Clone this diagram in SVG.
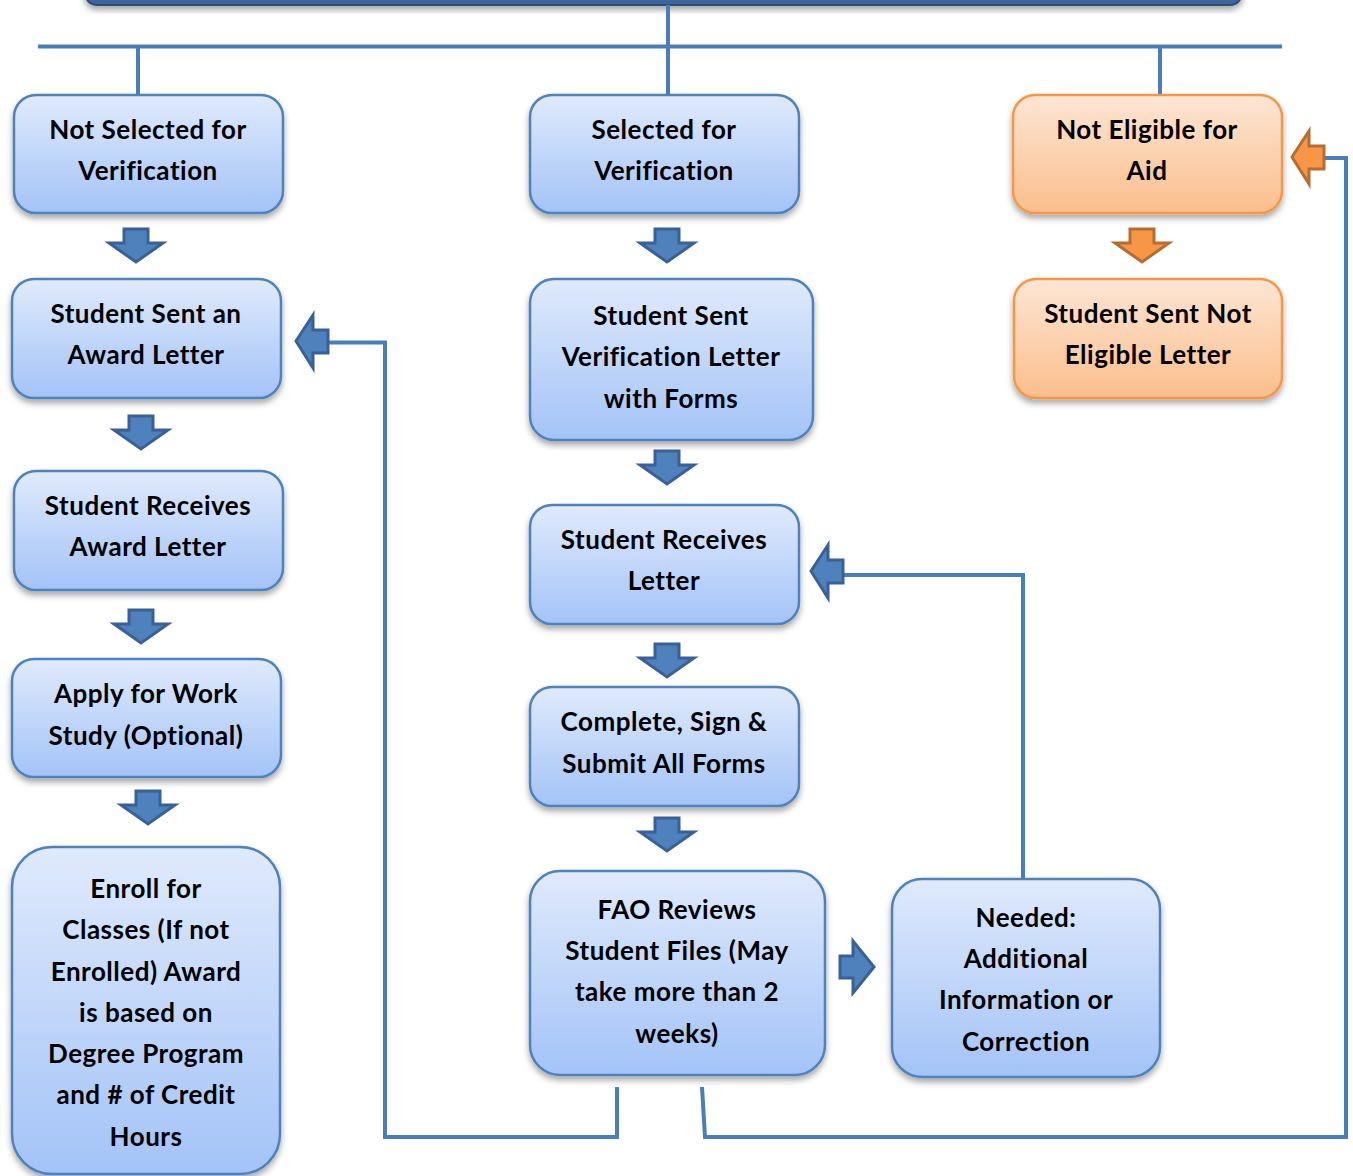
<svg xmlns="http://www.w3.org/2000/svg" width="1353" height="1176" viewBox="0 0 1353 1176">
<defs>
<linearGradient id="gb" x1="0" y1="0" x2="0" y2="1">
<stop offset="0" stop-color="#e0eafc"/>
<stop offset="1" stop-color="#a3c3f7"/>
</linearGradient>
<linearGradient id="go" x1="0" y1="0" x2="0" y2="1">
<stop offset="0" stop-color="#fde6d4"/>
<stop offset="1" stop-color="#fbbe8c"/>
</linearGradient>
<linearGradient id="gt" x1="0" y1="0" x2="0" y2="1">
<stop offset="0" stop-color="#5a86c2"/>
<stop offset="1" stop-color="#3b6299"/>
</linearGradient>
<filter id="sh" x="-10%" y="-10%" width="120%" height="130%">
<feDropShadow dx="0" dy="4" stdDeviation="3" flood-color="#000" flood-opacity="0.35"/>
</filter>
</defs>
<style>
.bb{fill:url(#gb);stroke:#4f81bd;stroke-width:2.5;filter:url(#sh)}
.ob{fill:url(#go);stroke:#f79646;stroke-width:2.5;filter:url(#sh)}
.t{font-family:Lato,"Liberation Sans",sans-serif;font-weight:bold;font-size:26px;letter-spacing:0.5px;fill:#000;text-anchor:middle}
.ab{fill:#4f81bd;stroke:#3a6196;stroke-width:3;stroke-linejoin:miter}
.ao{fill:#f79646;stroke:#b66d31;stroke-width:3;stroke-linejoin:miter}
.c{fill:none;stroke:#4a7ebb;stroke-width:4}
</style>
<g id="top-box">
<rect x="85" y="-40" width="1157" height="45" rx="12" fill="url(#gt)" stroke="#2c4d7a" stroke-width="2" filter="url(#sh)"/>
</g>
<g id="connectors">
<path class="c" d="M38,46.5 H1282" stroke-width="5"/>
<path class="c" d="M668,5 V95"/>
<path class="c" d="M138,46 V95"/>
<path class="c" d="M1160,46 V95"/>
<path class="c" d="M328,342.5 H385 V1137 H617 V1087"/>
<path class="c" d="M843,575 H1023 V879"/>
<path class="c" d="M1323,158 H1346 V1137 H705 L702,1087"/>
<path class="ab" d="M124,229 h24 v14 h15 L136,262 L109,243 h15 Z"/>
<path class="ab" d="M129,416 h24 v14 h15 L141,449 L114,430 h15 Z"/>
<path class="ab" d="M129,610 h24 v14 h15 L141,643 L114,624 h15 Z"/>
<path class="ab" d="M136,791 h24 v14 h15 L148,824 L121,805 h15 Z"/>
<path class="ab" d="M655,229 h24 v14 h15 L667,262 L640,243 h15 Z"/>
<path class="ab" d="M655,451 h24 v14 h15 L667,484 L640,465 h15 Z"/>
<path class="ab" d="M655,644 h24 v14 h15 L667,677 L640,658 h15 Z"/>
<path class="ab" d="M655,818 h24 v14 h15 L667,851 L640,832 h15 Z"/>
<path class="ao" d="M1130,229 h24 v14 h15 L1142,262 L1115,243 h15 Z"/>
<path class="ab" d="M296,341 L313,315 v15 h15 v23 h-15 v15 Z"/>
<path class="ab" d="M811,571 L828,545 v15 h15 v23 h-15 v15 Z"/>
<path class="ao" d="M1292,157 L1309,131 v15 h15 v23 h-15 v15 Z"/>
<path class="ab" d="M874,967 L853,941 v15 h-13 v22 h13 v15 Z"/>
</g>
<g id="n1"><rect class="bb" x="14" y="95" width="269" height="118" rx="22"/>
<text class="t" x="148" y="139">Not Selected for</text><text class="t" x="148" y="180">Verification</text></g>
<g id="n2"><rect class="bb" x="530" y="95" width="269" height="118" rx="22"/>
<text class="t" x="664" y="139">Selected for</text><text class="t" x="664" y="180">Verification</text></g>
<g id="n3"><rect class="ob" x="1013" y="95" width="269" height="118" rx="22"/>
<text class="t" x="1147" y="139">Not Eligible for</text><text class="t" x="1147" y="180">Aid</text></g>
<g id="n4"><rect class="bb" x="12" y="279" width="269" height="119" rx="22"/>
<text class="t" x="146" y="323">Student Sent an</text><text class="t" x="146" y="364">Award Letter</text></g>
<g id="n5"><rect class="bb" x="530" y="279" width="283" height="161" rx="24"/>
<text class="t" x="671" y="325">Student Sent</text><text class="t" x="671" y="366">Verification Letter</text><text class="t" x="671" y="408">with Forms</text></g>
<g id="n6"><rect class="ob" x="1014" y="279" width="268" height="119" rx="22"/>
<text class="t" x="1148" y="323">Student Sent Not</text><text class="t" x="1148" y="364">Eligible Letter</text></g>
<g id="n7"><rect class="bb" x="14" y="471" width="269" height="119" rx="22"/>
<text class="t" x="148" y="515">Student Receives</text><text class="t" x="148" y="556">Award Letter</text></g>
<g id="n8"><rect class="bb" x="530" y="505" width="269" height="119" rx="22"/>
<text class="t" x="664" y="549">Student Receives</text><text class="t" x="664" y="590">Letter</text></g>
<g id="n9"><rect class="bb" x="12" y="659" width="269" height="118" rx="22"/>
<text class="t" x="146" y="703">Apply for Work</text><text class="t" x="146" y="745">Study (Optional)</text></g>
<g id="n10"><rect class="bb" x="530" y="687" width="269" height="119" rx="22"/>
<text class="t" x="664" y="731">Complete, Sign &amp;</text><text class="t" x="664" y="773">Submit All Forms</text></g>
<g id="n11"><rect class="bb" x="12" y="847" width="268" height="327" rx="40"/>
<text class="t" x="146" y="898">Enroll for</text><text class="t" x="146" y="939">Classes (If not</text><text class="t" x="146" y="981">Enrolled) Award</text><text class="t" x="146" y="1022">is based on</text><text class="t" x="146" y="1063">Degree Program</text><text class="t" x="146" y="1104">and # of Credit</text><text class="t" x="146" y="1146">Hours</text></g>
<g id="n12"><rect class="bb" x="530" y="871" width="295" height="204" rx="30"/>
<text class="t" x="677" y="919">FAO Reviews</text><text class="t" x="677" y="960">Student Files (May</text><text class="t" x="677" y="1001">take more than 2</text><text class="t" x="677" y="1043">weeks)</text></g>
<g id="n13"><rect class="bb" x="892" y="879" width="268" height="198" rx="30"/>
<text class="t" x="1026" y="927">Needed:</text><text class="t" x="1026" y="968">Additional</text><text class="t" x="1026" y="1009">Information or</text><text class="t" x="1026" y="1051">Correction</text></g>
</svg>
